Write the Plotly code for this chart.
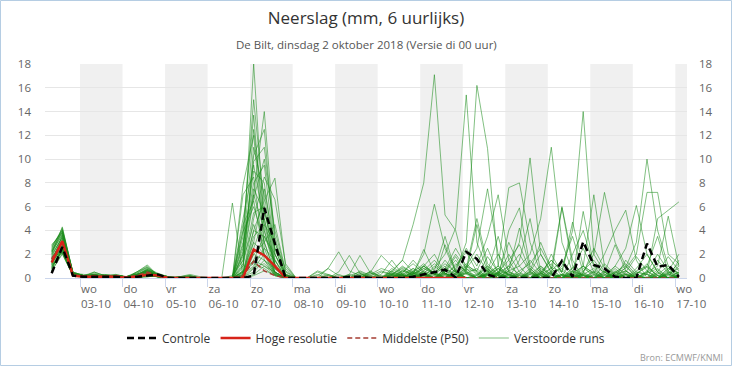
import plotly.graph_objects as go
import pandas as pd

# ---------------- data ----------------
start_time = "2018-10-02 08:00"          # first 6-hourly value (local time)
n_steps = 60
tick_dates = ["2018-10-%02d" % d for d in range(3, 18)]
tick_days = ["wo", "do", "vr", "za", "zo", "ma", "di", "wo", "do", "vr", "za", "zo", "ma", "di", "wo"]
tick_labels = ["03-10", "04-10", "05-10", "06-10", "07-10", "08-10", "09-10", "10-10",
               "11-10", "12-10", "13-10", "14-10", "15-10", "16-10", "17-10"]
shaded_days = ["2018-10-03", "2018-10-05", "2018-10-07", "2018-10-09", "2018-10-11",
               "2018-10-13", "2018-10-15", "2018-10-17"]

controle = [0.4,2.6,0.2,0.1, 0.1,0.1,0.1,0, 0.1,0.2,0.3,0, 0,0,0,0, 0,0,0,0.2,
            5.9,2.9,0,0, 0,0,0,0, 0.1,0.1,0,0, 0,0,0.1,0.3, 0.5,0.7,0.05,2.2,
            1.6,0.3,0,0, 0,0,0,0, 1.45,0.1,3.05,1.1, 0.8,0.1,0,0, 2.9,0.95,1.1,0.1]

hoge_resolutie = [1.3,3.1,0.2,0.1, 0.1,0.1,0.1,0, 0.1,0.3,0.2,0, 0,0,0,0, 0,0,0,2.4,
                  1.9,1.0,0,0, 0,0,0,0, 0,0,0,0, 0,0,0,0, 0,0,0,0]

middelste_p50 = [1.6,3.0,0.3,0.1, 0.2,0.1,0.2,0.1, 0.2,0.5,0.2,0, 0,0,0,0, 0,0,0.2,1.4,
                 0.6,0.2,0,0, 0,0,0,0, 0,0,0,0, 0,0,0,0, 0,0,0,0,
                 0,0,0,0, 0,0,0,0, 0,0,0,0, 0,0,0,0, 0,0,0,0]

verstoorde_runs = [
    [2.0,4.3,0.4,0.2, 0.3,0.1,0.2,0.1, 0.2,0.5,0.2,0, 0.1,0,0,0, 0,0,2.0,18.0, 4.0,0.5,0,0, 0,0,0.2,0, 0,0.3,0.1,0, 0,0.5,1.2,0.4, 0,0.8,2.5,1.0, 0.3,0,0.5,1.5, 2.8,0.6,0,0.2, 1.0,3.5,0.5,0, 0,0.4,1.2,0.3, 0,0.5,1.8,0.6],
    [1.5,3.0,0.3,0.1, 0.2,0.1,0.2,0.1, 0.3,0.6,0.2,0, 0,0.1,0,0, 0,0,3.5,15.0, 6.0,1.0,0.1,0, 0,0,0,0, 0,0,0.3,0.8, 0.5,1.5,4.5,8.0, 17.1,5.3,4.0,0.5, 0.2,1.0,0.3,0, 0,0.5,2.0,0.4, 0,0,0.6,1.5, 0.3,0,0,0.8, 2.0,0.5,0,0.2],
    [0.9,2.4,0.2,0.1, 0.5,0.2,0.1,0.1, 0.1,0.4,0.3,0.1, 0,0,0,0, 0,0.2,1.5,7.0, 14.0,3.0,0.3,0, 0,0.3,0,0, 0,0,0,0, 0.3,1.0,0.4,2.0, 6.2,2.5,0.5,0, 0,0.4,1.0,0.2, 0,0,0.8,0.3, 5.9,1.0,0,0, 0,0.2,0.6,0, 0,0,0.4,1.2],
    [2.5,4.2,0.5,0.2, 0.1,0.3,0.2,0, 0.5,1.1,0.2,0, 0.1,0.2,0,0, 0,0,4.0,13.7, 3.0,0.4,0,0, 0,0,0,0, 0.2,0.5,0.1,0, 0,0,0.6,0.2, 0.8,2.0,4.2,15.4, 3.0,0.6,0,0, 0.3,1.5,0.4,0, 0,0.8,2.5,0.5, 0,0,0,0.3, 1.0,0.2,0,0],
    [1.2,2.8,0.3,0.1, 0.3,0.1,0.3,0.1, 0.2,0.8,0.4,0.1, 0,0,0,0, 0,0,7.8,12.0, 2.5,0.3,0,0, 0,0,0,0, 0,0,0.4,0.2, 0.1,0.6,0.3,0.8, 0.4,1.2,0.5,3.0, 16.2,10.9,1.0,0.3, 0,0,0.5,1.5, 0.6,0,0,0, 0.2,1.0,0.3,0, 0,0,0.3,0],
    [2.8,3.8,0.4,0.3, 0.1,0.1,0.1,0, 0,0.3,0.1,0, 0,0,0,0, 0,0,1.0,10.3, 12.5,2.0,0.2,0, 0,0,0,0.3, 0,0,0,0, 0,0.4,1.5,0.5, 0,0.3,1.0,2.2, 0.5,0,0.4,1.0, 3.0,10.1,2.0,0.5, 0,0,1.0,0.4, 0,0.8,0,0, 0.5,2.0,0.6,0],
    [1.8,2.1,0.2,0.1, 0.2,0.1,0.2,0.1, 0.1,0.1,0.2,0, 0.1,0.3,0.1,0, 0,0,0.5,4.0, 6.5,8.4,1.0,0, 0,0,0,0, 0,0,0,0, 0.8,0.2,0,0.6, 1.5,0.4,0,0.8, 2.0,0.5,0,0.6, 1.0,2.0,5.0,11.0, 3.0,0.5,0,0, 0,0,0.5,1.8, 0.6,0,0,0.5],
    [0.7,2.6,0.3,0.2, 0.2,0.1,0.2,0.1, 0.3,0.6,0.2,0, 0,0.1,0,0, 0,0.1,2.5,9.0, 8.0,1.5,0,0, 0,0,0,0, 0,0.4,0,0, 0.2,0,0.3,1.0, 0.4,0,0.6,0.3, 0,0.3,1.0,7.6, 8.0,3.0,0.4,0, 0,0.5,0,0, 1.2,0.3,0,0, 0,0.3,1.0,0.4],
    [1.5,3.3,0.3,0.1, 0.3,0.1,0.2,0.1, 0.1,0.4,0.3,0.1, 0,0,0,0, 0,6.3,0.1,3.0, 2.0,0.5,0,0, 0,0,0,0, 0,0,0,0.5, 0.3,0.8,0.2,0, 0,0.5,1.5,0.4, 0,0,0.8,0.3, 0,0.4,0,0.9, 0.5,4.0,14.0,2.0, 0.5,0,0,0, 0.4,0.8,0,0],
    [2.2,3.6,0.4,0.2, 0.1,0.3,0.2,0, 0.5,0.9,0.2,0, 0,0.1,0,0, 0,0,7.0,8.5, 1.5,0.2,0,0, 0,0,0.3,0, 0,0,0,0, 0,0.4,0.2,0.1, 1.0,0.3,0,0.7, 0.6,2.5,0.4,0, 0,0,1.0,0.3, 0,0.4,1.0,7.0, 1.0,0.2,0,0, 0,1.5,0.4,0],
    [1.0,2.2,0.2,0.1, 0.2,0.2,0.1,0.1, 0.2,0.7,0.3,0, 0,0,0,0, 0,0,1.2,6.7, 10.0,4.0,0.5,0, 0,0,0,0, 0.3,0,0,0, 0,0,0.5,1.2, 0.3,0,0,0.6, 4.5,0.8,0,0, 0.4,0,0.6,0, 0.3,0,0.5,2.0, 7.2,3.0,1.0,0.2, 0,0,0.6,2.0],
    [1.6,3.1,0.3,0.2, 0.2,0.1,0.2,0.1, 0.3,0.5,0.2,0, 0.1,0,0,0, 0,0,0.3,5.0, 8.5,6.6,1.2,0, 0,0.5,0.2,0, 0,0,0,0, 0.6,0.1,0,0.4, 1.2,0.4,0,0, 0.3,1.0,0.2,0, 0,0,0.4,1.2, 0.2,0,0.3,0, 0.5,0,0.9,3.0, 10.0,4.0,1.0,0.3],
    [2.3,3.9,0.4,0.2, 0.3,0.1,0.2,0.1, 0.1,0.3,0.1,0, 0,0,0,0, 0,0,5.0,9.5, 4.5,1.0,0,0, 0,0,0,0, 0,0.2,0.5,0.1, 0,0.2,0,0.5, 0,0.8,0.3,0, 0,0.4,2.0,0.6, 0,0.3,0,0, 0,0.6,0.2,0, 0,0.4,0.8,2.0, 7.2,7.2,2.0,1.2],
    [1.3,2.5,0.2,0.1, 0.1,0.1,0.1,0, 0.2,0.6,0.2,0, 0,0.2,0,0, 0,0,2.0,7.5, 5.5,2.5,0.2,0, 0,0,0,0, 0,0,0,0.3, 1.5,0.3,0,0, 0,0.5,1.8,0.4, 0,0,0.4,3.0, 1.0,0,0,0.5, 0.8,0,0,0.6, 0.2,0,1.5,0.5, 0.3,5.0,5.7,6.4],
    [0.8,2.3,0.3,0.2, 0.4,0.2,0.1,0.1, 0,0.3,0.1,0, 0,0,0,0, 0,0,0.2,3.5, 4.5,3.0,0.8,0, 0,0,0,0, 0,0,0,0, 0.2,0.9,0.4,0, 0,0,0.8,2.5, 1.0,3.5,7.0,1.5, 0,0,0.3,0, 0,0.9,0.2,0, 0,0,0.4,0, 0,0,0.2,1.0],
    [2.6,4.0,0.5,0.2, 0.2,0.1,0.2,0.1, 0.4,0.9,0.3,0.1, 0,0,0,0, 0,0,3.9,6.0, 3.0,0.5,0,0, 0,0,0,0, 0,0,0.6,0, 0,0.3,0,0.6, 0.2,1.5,0.4,1.0, 2.5,7.5,2.0,0, 0.2,0,0,0.6, 1.5,0.3,0,0, 0,0,0,0.5, 0.3,0,0,0],
    [1.9,3.4,0.3,0.1, 0.2,0.1,0.3,0.1, 0.1,0.2,0.1,0, 0,0,0,0, 0,0,0.5,2.5, 5.0,1.0,0,0, 0,0,0,0, 0,0,0,0, 0.4,0,0.3,1.0, 0.3,0,0,0.5, 0,0.7,0.2,0, 0.6,1.2,2.5,0.8, 6.0,1.5,0,0, 0,0.6,0,0, 0.5,1.0,5.2,1.0],
    [1.1,2.7,0.3,0.1, 0.3,0.1,0.2,0.1, 0.2,0.4,0.2,0, 0,0.1,0,0, 0,0,1.5,4.5, 2.0,0.8,0,0, 0,0.2,0.8,0.2, 0,0,0,0, 0.4,0.2,0,0.3, 0,0.6,0.2,0, 0,0.3,0,0.8, 2.0,0.5,0,0, 0,0.3,1.0,0.4, 2.0,4.0,5.7,1.5, 0,0,0.5,0.3],
    [2.1,3.7,0.4,0.2, 0.1,0.1,0.1,0, 0,0.2,0.1,0, 0,0,0,0, 0,0,0.2,1.5, 3.5,2.0,0.3,0, 0,0,0,0, 0,0,0.2,0.6, 0.3,0,0.5,0.2, 0,0.4,0,1.0, 0.6,0,0,0.4, 0,0.8,0,0, 0.2,0,0.8,0.3, 0,1.0,2.5,6.1, 2.0,0.5,0,0],
    [1.4,2.9,0.3,0.1, 0.2,0.1,0.2,0.1, 0.3,0.6,0.2,0, 0,0,0,0, 0,0,0.8,11.0, 7.0,1.2,0,0, 0,0,0,0, 0,0.6,0.2,0, 0.3,0.1,0.8,0.3, 0,2.8,0.6,0, 0,0.4,0.2,1.0, 0.3,0,0.4,1.5, 0.5,4.7,1.0,0, 0,0,0.3,0, 0.6,0,0.8,0.2],
    [0.6,2.0,0.2,0.1, 0.1,0.2,0.1,0, 0,0.1,0.2,0, 0,0,0,0, 0,0,0,2.0, 1.5,0.5,0,0, 0,0,0,0.5, 1.9,0.4,0,0, 0.5,0.2,0,1.0, 0.4,0,1.2,0.6, 0,0.3,0.8,0, 0,0.5,0,0, 0.3,0,5.6,1.0, 0.5,0,0,0, 0,0.7,0,0],
    [2.4,4.1,0.4,0.2, 0.5,0.2,0.1,0.1, 0.4,0.8,0.2,0, 0,0,0,0, 0,0,2.8,8.0, 9.5,2.0,0.1,0, 0,0,0,0, 0,0,0,0, 0,0.6,0.2,0, 0.5,0,0.3,0.8, 5.0,1.2,0.3,0, 0,0,0.3,0.8, 0,0.6,0.2,0, 0,0.5,0,0.3, 1.2,0,0,0],
    [1.7,3.2,0.3,0.1, 0.2,0.2,0.2,0.1, 0.2,0.5,0.2,0, 0,0,0,0, 0,0,0.3,1.0, 2.5,1.5,0.2,0, 0,0,0.8,2.2, 0.6,0.2,0,0, 0,0.7,0.3,2.4, 0.5,0,0.4,0, 0,0.5,3.5,0.5, 0,0,0,0.4, 0,0,0.3,0.8, 0,0,0,0.2, 0,0.4,0,0],
    [0.9,2.5,0.2,0.1, 0.1,0.1,0.1,0, 0.2,0.7,0.3,0.1, 0,0.1,0,0, 0,0,1.0,5.5, 6.0,1.0,0,0, 0,0,0,0, 0.3,1.9,0.4,0, 0.2,0,0.6,1.0, 2.0,0.4,0,0, 0,0.6,0,4.0, 5.9,1.0,0.2,0, 0,0,0,0.5, 0,0,0,0, 0.3,0,0,0.5],
    [2.0,3.4,0.3,0.2, 0.2,0.1,0.2,0.1, 0.1,0.3,0.2,0, 0,0,0,0, 0,0,0.1,0.5, 1.5,0.8,0.1,0, 0,0,0,0, 0,0,0.5,1.9, 1.0,0.3,0,0.4, 0,0.6,2.0,0.8, 0,0,0.5,0, 1.5,5.0,0.6,0, 0,0,0.4,0, 0,0.3,0.6,0, 0,0,0.8,0.4],
    [1.3,3.6,0.4,0.1, 0.3,0.1,0.2,0.1, 0.5,1.0,0.2,0, 0.1,0.2,0,0, 0,0,4.5,6.5, 2.0,0.2,0,0, 0,0,0,0, 0,0,0,0, 0,0,0.2,0.8, 0.3,0,0,0.4, 0.8,0,0.3,2.0, 0.5,0,0,0.3, 0,2.0,4.0,1.0, 0,0,0.3,0, 0,0,0,0],
    [1.6,3.0,0.3,0.1, 0.2,0.1,0.2,0.1, 0.2,0.5,0.2,0, 0,0,0,0, 0,0,0.6,3.0, 7.5,2.5,0.3,0, 0,0,0,0, 0,0,0,0, 0.6,1.5,0.5,0, 0,0.4,0,0, 0,0.2,0.4,0.5, 0.2,0,0,0, 0,0,0.4,2.5, 0.8,0,0,0.6, 1.0,3.5,0.5,0],
    [1.0,2.2,0.2,0.1, 0.1,0.1,0.1,0, 0,0.2,0.1,0, 0,0,0,0, 0,0,0,0.8, 2.0,1.0,0.2,0, 0,0,0,0, 0,0,0,0, 0,0.3,0,0, 0.6,3.5,0.5,0, 0,0,0.8,0.2, 0,0.6,3.0,0.8, 0,0,0,0.3, 0,0.5,1.0,0, 0,0,0,0],
    [2.7,4.0,0.5,0.2, 0.3,0.2,0.2,0.1, 0.3,0.7,0.2,0, 0,0,0,0, 0,0,2.2,12.5, 5.0,0.8,0,0, 0,0,0,0, 0,0,0,0, 0,0.3,0.8,0.2, 0,0,0.4,1.2, 0.4,0,0,0.6, 4.2,0.8,0,0, 0,0.3,0,0, 0.4,2.8,0.6,0, 0,0,0.4,0.8],
    [1.2,2.6,0.3,0.1, 0.2,0.1,0.2,0.1, 0.1,0.3,0.1,0, 0,0,0,0, 0,0,0.4,2.0, 3.0,4.5,0.6,0, 0,0,0,0, 0,0,0,0, 0,0,0.4,0, 0.3,1.0,0,0, 0,1.8,0.5,0, 0,0,0,2.0, 0.4,0,0.3,0, 0,0,0,0.4, 0.9,0.2,0,1.5],
    [1.8,3.5,0.4,0.2, 0.2,0.1,0.2,0.1, 0.2,0.6,0.3,0.1, 0,0.1,0,0, 0,0,1.8,9.8, 11.0,3.5,0.2,0, 0,0,0,0, 0,0,0,0, 0.2,0,0,0.3, 0,0,0.7,0, 0.2,0.8,0,0, 0,0.3,1.0,0, 0.3,0,0,0, 0.6,0,0,0, 0,0.2,0,0.3],
    [0.8,2.4,0.2,0.1, 0.1,0.1,0.1,0, 0.1,0.3,0.1,0, 0,0,0,0, 0,0,0.2,4.0, 3.5,1.5,0,0, 0,0,0,0, 0,0,0,0, 0,0.2,0,0, 0,0,0.3,0, 0,0.3,0,0, 0,0,0.4,0, 0,0,0,0.2, 0,0,0,0, 0,0,0.3,0],
    [2.2,3.8,0.4,0.2, 0.2,0.2,0.2,0.1, 0.3,0.5,0.2,0, 0,0,0,0, 0,0,3.0,7.0, 4.0,1.0,0,0, 0,0,0,0, 0,0,0,0, 0,0,0,0.2, 0,0.3,0,0, 0,0,0,0.3, 0,0,0,0, 0,0.2,0,0, 0,0,0.2,0, 0,0,0,0],
    [1.4,2.7,0.3,0.1, 0.1,0.2,0.1,0, 0.1,0.4,0.1,0, 0,0,0,0, 0,0,0,0.3, 1.0,0.5,0,0, 0,0,0,0, 0,0,0,0, 0,0,0.2,0, 0,0,0,0, 0,0,0.2,0, 0,0,0,0, 0,0,0,0, 0,0.2,0,0, 0,0,0,0],
    [1.1,2.3,0.2,0.1, 0.1,0.1,0.1,0, 0.1,0.3,0.2,0, 0,0,0,0, 0,0,0.1,0.9, 1.2,0.4,0,0, 0,0,0,0, 0,0,0,0, 0,0.2,0,0.3, 0,0,0,0.4, 0,0,0.3,0, 0,0,0,0, 0.2,0,0,0, 0,0,0.3,0, 0,0,0,0.2],
    [1.7,2.9,0.3,0.1, 0.2,0.1,0.2,0.1, 0.2,0.6,0.2,0, 0,0,0,0, 0,0,0.5,1.5, 1.0,0.3,0,0, 0,0,0,0, 0,0,0,0, 0,0,0.4,0, 0,0.2,0,0, 0,0,0,0.3, 0,0,0.2,0, 0,0,0,0, 0.3,0,0,0, 0,0,0,0],
    [0.6,2.1,0.2,0.1, 0.1,0.2,0.1,0, 0,0.2,0.1,0, 0,0,0,0, 0,0,0,0.2, 0.6,0.3,0,0, 0,0.6,0.3,0, 0,0,0,0, 0.3,0,0,0, 0,0,0,0, 0,0.2,0,0, 0,0,0,0, 0,0,0.2,0, 0,0,0,0, 0,0,0,0],
    [2.3,3.9,0.4,0.2, 0.2,0.1,0.2,0.1, 0.3,0.7,0.3,0, 0,0.1,0,0, 0,0,0.6,1.2, 0.8,0.2,0,0, 0,0,0,0, 0,0,0,0, 0,0,0,0, 0,0,0,0, 0,0,0,0, 0,0,0,0, 0,0,0,0, 0,0,0,0, 0,0,0,0],
]

# ---------------- figure ----------------
times = pd.date_range(start_time, periods=n_steps, freq="6h")
for m in verstoorde_runs:
    assert len(m) == n_steps

FONT = "Open Sans, Noto Sans, sans-serif"
fig = go.Figure()

for k, run in enumerate(verstoorde_runs):
    fig.add_trace(go.Scatter(
        x=times, y=run, mode="lines", name="Verstoorde runs",
        legendgroup="runs", showlegend=(k == 0), legendrank=4,
        line=dict(color="rgba(28,140,28,0.55)", width=1),
        hoverinfo="skip"))

fig.add_trace(go.Scatter(
    x=times, y=middelste_p50, mode="lines", name="Middelste (P50)", legendrank=3,
    line=dict(color="rgb(165,60,50)", width=1.5, dash="5px,3px")))
fig.add_trace(go.Scatter(
    x=times[:len(hoge_resolutie)], y=hoge_resolutie, mode="lines", name="Hoge resolutie",
    legendrank=2, line=dict(color="rgb(215,35,25)", width=2.5)))
fig.add_trace(go.Scatter(
    x=times, y=controle, mode="lines", name="Controle", legendrank=1, yaxis="y2",
    line=dict(color="black", width=2.5, dash="7px,4px")))

ticktext = [f"{d}<br>{l}" for d, l in zip(tick_days, tick_labels)]

shapes = []
for d in shaded_days:
    d0 = pd.Timestamp(d)
    shapes.append(dict(type="rect", xref="x", yref="paper", x0=d0, x1=d0 + pd.Timedelta(days=1),
                       y0=0, y1=1, fillcolor="#f0f0f0", line=dict(width=0), layer="below"))

L, R, T, B = 45, 45, 64, 88
W, H = 732, 366
pw, ph = W - L - R, H - T - B
shapes.append(dict(type="rect", xref="paper", yref="paper",
                   x0=(0.5 - L) / pw, x1=(W - 0.5 - L) / pw,
                   y0=-(B - 0.5) / ph, y1=1 + (T - 0.5) / ph,
                   line=dict(color="#b5cde3", width=1), fillcolor="rgba(0,0,0,0)", layer="above"))

fig.update_layout(
    width=W, height=H,
    margin=dict(l=L, r=R, t=T, b=B),
    plot_bgcolor="white", paper_bgcolor="white",
    font=dict(family=FONT, color="#333"),
    title=dict(text="Neerslag (mm, 6 uurlijks)", x=0.5, xanchor="center",
               y=1 - 18 / H, yref="container", yanchor="middle",
               font=dict(size=17, color="#333", family=FONT)),
    xaxis=dict(type="date",
               range=["2018-10-02 04:14", "2018-10-17 06:35"],
               tickvals=tick_dates, ticktext=ticktext,
               ticklabelposition="outside right",
               ticks="outside", ticklen=8, tickcolor="#ccd6eb",
               showline=True, linecolor="#ccd6eb", showgrid=False, zeroline=False,
               tickfont=dict(size=11.5, color="#666", family=FONT)),
    yaxis=dict(range=[0, 18], dtick=2, showgrid=True, gridcolor="#e6e6e6",
               zeroline=False, ticks="", ticklabelstandoff=13,
               tickfont=dict(size=11.5, color="#666", family=FONT)),
    yaxis2=dict(range=[0, 18], dtick=2, overlaying="y", side="right", showgrid=False,
                zeroline=False, ticks="", ticklabelstandoff=11,
                tickfont=dict(size=11.5, color="#666", family=FONT)),
    legend=dict(orientation="h", x=0.5, xanchor="center", y=(278 - 338) / ph, yanchor="middle",
                font=dict(size=12, color="#333", family=FONT), bgcolor="rgba(0,0,0,0)"),
    shapes=shapes,
    annotations=[
        dict(text="De Bilt, dinsdag 2 oktober 2018 (Versie di 00 uur)", xref="paper", yref="paper",
             x=0.5, y=1 + (T - 44) / ph, xanchor="center", yanchor="middle", showarrow=False,
             font=dict(size=11.5, color="#555", family=FONT)),
        dict(text="Bron: ECMWF/KNMI", xref="paper", yref="paper",
             x=(725 - L) / pw, y=-(357 - 278) / ph, xanchor="right", yanchor="middle", showarrow=False,
             font=dict(size=9, color="#999", family=FONT)),
    ],
)

fig.write_html("out.html", config={"displayModeBar": False},
               post_script="document.body.style.margin='0';")
